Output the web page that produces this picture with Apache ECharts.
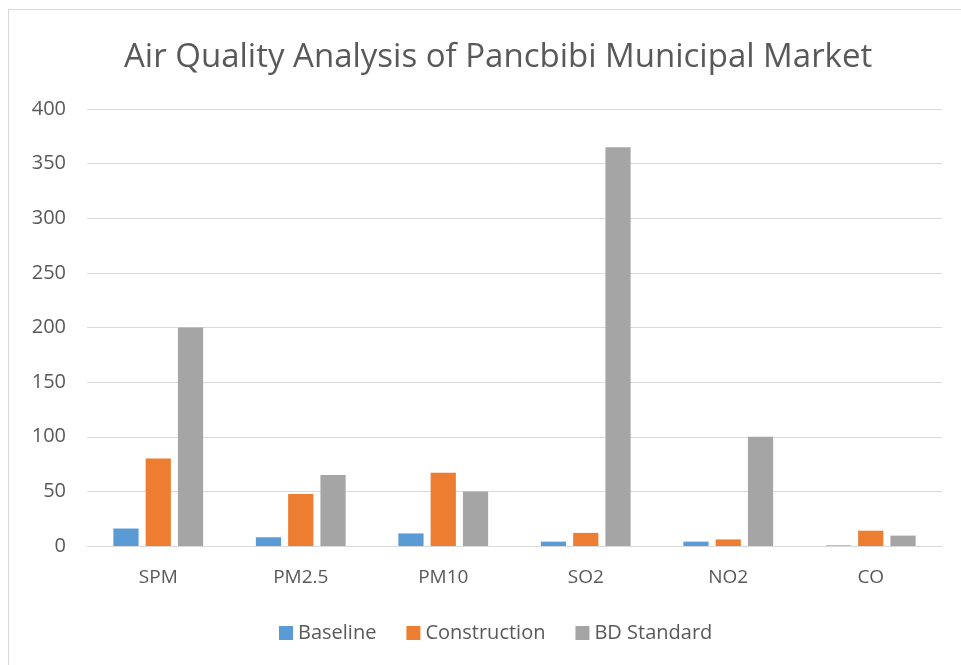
<!DOCTYPE html>
<html>
<head>
<meta charset="utf-8">
<script src="https://cdn.jsdelivr.net/npm/echarts@6/dist/echarts.min.js"></script>
<style>
  html, body { margin: 0; padding: 0; background: #fff; }
  #frame { position: absolute; left: 8px; top: 9px; width: 960px; height: 660px; border: 1px solid #d9d9d9; box-sizing: border-box; }
  #chart { width: 961px; height: 665px; }
</style>
</head>
<body>
<div id="frame"></div>
<div id="chart"></div>
<script>
// categories and series values
const categories = ['SPM', 'PM2.5', 'PM10', 'SO2', 'NO2', 'CO']
const baseline = [16, 8, 11.5, 4, 4, 0.5]
const construction = [80, 47.5, 67, 12, 6, 14]
const bdStandard = [200, 65, 50, 365, 100, 9.5]

const textColor = '#595959'
const font = 'Open Sans'

const chart = echarts.init(document.getElementById('chart'))
chart.setOption({
  animation: false,
  title: {
    text: 'Air Quality Analysis of Pancbibi Municipal Market',
    left: 119,
    top: 36,
    textStyle: { fontFamily: font, fontSize: 33, fontWeight: 'normal', color: textColor }
  },
  legend: {
    bottom: 17,
    left: 274,
    itemWidth: 14,
    itemHeight: 14,
    itemGap: 30,
    icon: 'rect',
    textStyle: { fontFamily: font, fontSize: 20, color: textColor }
  },
  grid: { left: 87, right: 19, top: 109, bottom: 119 },
  xAxis: {
    type: 'category',
    data: categories,
    axisTick: { show: false },
    axisLine: { lineStyle: { color: '#d9d9d9', width: 1 } },
    axisLabel: { fontFamily: font, fontSize: 19, color: textColor, margin: 22 }
  },
  yAxis: {
    type: 'value',
    min: 0,
    max: 400,
    interval: 50,
    axisLine: { show: false },
    axisTick: { show: false },
    splitLine: { lineStyle: { color: '#d9d9d9', width: 1 } },
    axisLabel: { fontFamily: font, fontSize: 20, color: textColor, margin: 21 }
  },
  series: [
    { name: 'Baseline', type: 'bar', data: baseline, itemStyle: { color: '#5b9bd5' }, barGap: '28%', barCategoryGap: '37%' },
    { name: 'Construction', type: 'bar', data: construction, itemStyle: { color: '#ed7d31' } },
    { name: 'BD Standard', type: 'bar', data: bdStandard, itemStyle: { color: '#a5a5a5' } }
  ]
})
</script>
</body>
</html>
